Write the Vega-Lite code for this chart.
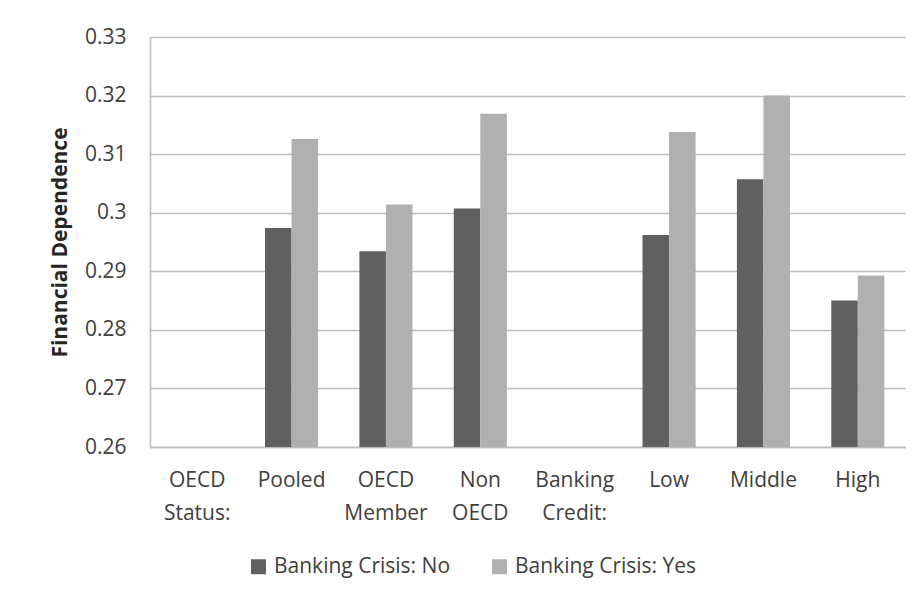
{
  "$schema": "https://vega.github.io/schema/vega-lite/v6.json",
  "width": 755,
  "height": 410,
  "autosize": {"type": "none"},
  "padding": {"left": 150, "top": 37, "right": 15, "bottom": 151},
  "background": "white",
  "config": {
    "font": "Open Sans",
    "view": {"stroke": null},
    "axis": {"labelColor": "#404040", "titleColor": "#262626", "labelFont": "Open Sans", "titleFont": "Open Sans"}
  },
  "data": {
    "values": [
      {"category": "Pooled", "series": "Banking Crisis: No", "value": 0.2974},
      {"category": "Pooled", "series": "Banking Crisis: Yes", "value": 0.3126},
      {"category": "OECD Member", "series": "Banking Crisis: No", "value": 0.2934},
      {"category": "OECD Member", "series": "Banking Crisis: Yes", "value": 0.3014},
      {"category": "Non OECD", "series": "Banking Crisis: No", "value": 0.3007},
      {"category": "Non OECD", "series": "Banking Crisis: Yes", "value": 0.3169},
      {"category": "Low", "series": "Banking Crisis: No", "value": 0.2962},
      {"category": "Low", "series": "Banking Crisis: Yes", "value": 0.3138},
      {"category": "Middle", "series": "Banking Crisis: No", "value": 0.3057},
      {"category": "Middle", "series": "Banking Crisis: Yes", "value": 0.3200},
      {"category": "High", "series": "Banking Crisis: No", "value": 0.2850},
      {"category": "High", "series": "Banking Crisis: Yes", "value": 0.2893}
    ]
  },
  "mark": {"type": "bar"},
  "encoding": {
    "x": {
      "field": "category",
      "type": "nominal",
      "sort": ["OECD Status:", "Pooled", "OECD Member", "Non OECD", "Banking Credit:", "Low", "Middle", "High"],
      "scale": {
        "domain": ["OECD Status:", "Pooled", "OECD Member", "Non OECD", "Banking Credit:", "Low", "Middle", "High"],
        "paddingInner": 0.4375,
        "paddingOuter": 0.21875
      },
      "axis": {
        "title": null,
        "labelAngle": 0,
        "ticks": false,
        "domain": true,
        "domainColor": "#bdbdbd",
        "domainWidth": 1.5,
        "labelFontSize": 21,
        "labelPadding": 22,
        "labelLineHeight": 33,
        "labelExpr": "split(datum.label, ' ')"
      }
    },
    "xOffset": {"field": "series", "type": "nominal", "sort": ["Banking Crisis: No", "Banking Crisis: Yes"]},
    "y": {
      "field": "value",
      "type": "quantitative",
      "scale": {"domain": [0.26, 0.33], "zero": false, "nice": false},
      "axis": {
        "title": "Financial Dependence",
        "titleFontSize": 21,
        "titleFontWeight": "bold",
        "titlePadding": 14,
        "values": [0.26, 0.27, 0.28, 0.29, 0.3, 0.31, 0.32, 0.33],
        "format": "~g",
        "ticks": false,
        "labelPadding": 24,
        "labelFontSize": 21,
        "domain": true,
        "domainColor": "#bdbdbd",
        "domainWidth": 1.5,
        "grid": true,
        "gridColor": "#bdbdbd",
        "gridWidth": 1.5
      }
    },
    "y2": {"datum": 0.26},
    "color": {
      "field": "series",
      "type": "nominal",
      "sort": ["Banking Crisis: No", "Banking Crisis: Yes"],
      "scale": {"domain": ["Banking Crisis: No", "Banking Crisis: Yes"], "range": ["#606060", "#b0b0b0"]},
      "legend": {
        "title": null,
        "orient": "none",
        "legendX": 98,
        "legendY": 519,
        "direction": "horizontal",
        "symbolType": "square",
        "symbolSize": 225,
        "symbolStrokeWidth": 0,
        "labelFontSize": 21,
        "labelLimit": 0,
        "labelColor": "#404040",
        "labelFont": "Open Sans",
        "labelOffset": 5,
        "columnPadding": 38
      }
    }
  }
}
